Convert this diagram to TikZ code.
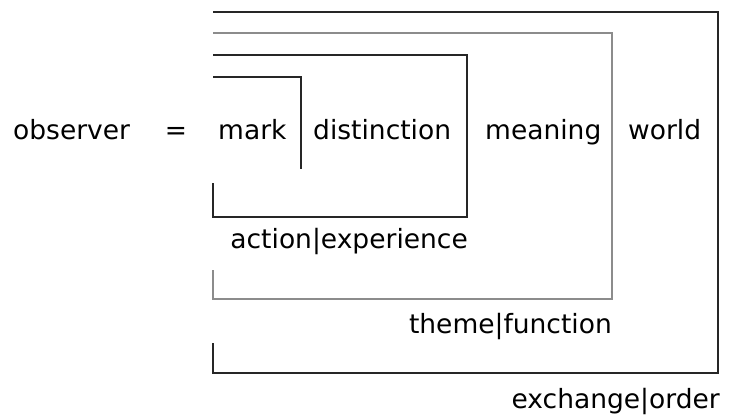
\documentclass[tikz,border=0pt]{standalone}
\usepackage{fontspec}
\setmainfont{DejaVu Sans}
\usetikzlibrary{positioning, calc}
\tikzset{
    word/.style={font=\fontsize{26.5}{30}\selectfont, inner sep=0pt},
    frame/.style={line width=1.6pt, draw=black!85},
    grayframe/.style={line width=1.9pt, draw=black!45},
}

\begin{document}
\begin{tikzpicture}[x=1pt, y=-1pt]
    \useasboundingbox (0,0) rectangle (745,417);

    % the equation line
    \node[word, anchor=base west] (obs) at (13,140) {observer};
    \node[word, anchor=base] (eq) at (176,140) {=};
    \node[word, anchor=base west] (mark) at (218,140) {mark};
    \node[word, anchor=base west] (dist) at (313,140) {distinction};
    \node[word, anchor=base west] (mean) at (485,140) {meaning};
    \node[word, anchor=base west] (world) at (628,140) {world};

    % bracket labels
    \node[word, anchor=base east] (actexp) at (468,248) {action|experience};
    \node[word, anchor=base east] (themfun) at (612,333) {theme|function};
    \node[word, anchor=base east] (exord) at (720,408) {exchange|order};

    % corners of the brackets
    \coordinate (m1) at (213,77);
    \coordinate (m2) at (301,169);
    \coordinate (d1) at (213,55);
    \coordinate (d2) at (467,217);
    \coordinate (d3) at (213,183);
    \coordinate (n1) at (213,33);
    \coordinate (n2) at (612,299);
    \coordinate (n3) at (213,270);
    \coordinate (w1) at (213,12);
    \coordinate (w2) at (718,373);
    \coordinate (w3) at (213,343);

    \draw[frame] (m1) -| (m2);
    \draw[frame] (d1) -| (d2) -- (d2 -| d3) -- (d3);
    \draw[grayframe] (n1) -| (n2) -- (n2 -| n3) -- (n3);
    \draw[frame] (w1) -| (w2) -- (w2 -| w3) -- (w3);
\end{tikzpicture}
\end{document}
